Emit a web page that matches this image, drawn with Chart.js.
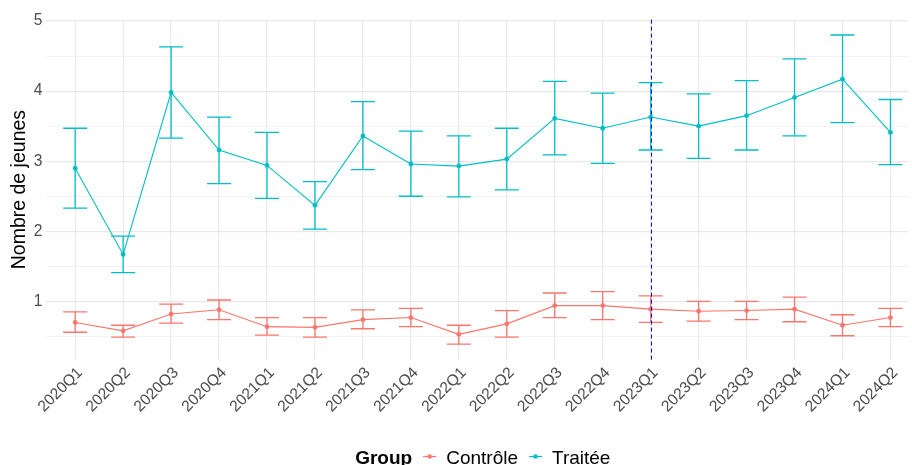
<!DOCTYPE html>
<html>
<head>
<meta charset="utf-8">
<script src="https://cdn.jsdelivr.net/npm/chart.js@4.4.1/dist/chart.umd.min.js"></script>
<style>
  html, body { margin: 0; padding: 0; background: #ffffff; overflow: hidden; }
  #wrap { position: relative; width: 912px; height: 465px; }
</style>
</head>
<body>
<div id="wrap"><canvas id="c"></canvas></div>
<script>
// ---- Data ----
const categories = ['2020Q1','2020Q2','2020Q3','2020Q4','2021Q1','2021Q2','2021Q3','2021Q4',
  '2022Q1','2022Q2','2022Q3','2022Q4','2023Q1','2023Q2','2023Q3','2023Q4','2024Q1','2024Q2'];

const controlMean = [0.70,0.58,0.82,0.88,0.64,0.63,0.74,0.77,0.53,0.68,0.94,0.94,0.89,0.86,0.87,0.89,0.66,0.77];
const controlLow  = [0.56,0.49,0.69,0.74,0.52,0.49,0.61,0.64,0.39,0.49,0.77,0.74,0.70,0.72,0.74,0.71,0.51,0.64];
const controlHigh = [0.85,0.66,0.96,1.02,0.77,0.77,0.88,0.90,0.66,0.87,1.12,1.14,1.08,1.00,1.00,1.06,0.81,0.90];

const treatedMean = [2.90,1.67,3.98,3.16,2.94,2.37,3.36,2.96,2.93,3.03,3.61,3.47,3.63,3.50,3.65,3.91,4.17,3.41];
const treatedLow  = [2.33,1.41,3.33,2.68,2.47,2.03,2.88,2.50,2.49,2.59,3.09,2.97,3.16,3.04,3.16,3.36,3.55,2.95];
const treatedHigh = [3.47,1.93,4.63,3.63,3.41,2.71,3.85,3.43,3.36,3.47,4.14,3.97,4.12,3.96,4.15,4.46,4.80,3.88];

const seriesNames = ['Contrôle', 'Traitée'];
const legendTitle = 'Group';
const yTitle = 'Nombre de jeunes';
const yMajorTicks = [1, 2, 3, 4, 5];
const yMinorTicks = [0.5, 1.5, 2.5, 3.5, 4.5];
const treatmentStart = '2023Q1';

// ---- Styling ----
const COL_CTRL = '#F8766D';
const COL_TRT = '#00BFC4';
const FONT = '"Liberation Sans", Arial, Helvetica, sans-serif';

function toPoints(arr) { return arr.map((v, i) => ({ x: i, y: v })); }

const errorBarPlugin = {
  id: 'errorBars',
  afterDatasetsDraw(chart) {
    const { ctx, scales: { x, y } } = chart;
    const sets = [
      { low: controlLow, high: controlHigh, color: COL_CTRL },
      { low: treatedLow, high: treatedHigh, color: COL_TRT }
    ];
    ctx.save();
    ctx.lineWidth = 1.3;
    sets.forEach(s => {
      ctx.strokeStyle = s.color;
      categories.forEach((c, i) => {
        const px = x.getPixelForValue(i);
        const x0 = x.getPixelForValue(i - 0.25);
        const x1 = x.getPixelForValue(i + 0.25);
        const yl = y.getPixelForValue(s.low[i]);
        const yh = y.getPixelForValue(s.high[i]);
        ctx.beginPath();
        ctx.moveTo(px, yl); ctx.lineTo(px, yh);
        ctx.moveTo(x0, yl); ctx.lineTo(x1, yl);
        ctx.moveTo(x0, yh); ctx.lineTo(x1, yh);
        ctx.stroke();
      });
    });
    // vertical dashed line at treatment start
    const vx = Math.round(x.getPixelForValue(categories.indexOf(treatmentStart))) + 0.5;
    ctx.strokeStyle = '#0000EE';
    ctx.lineWidth = 1;
    ctx.setLineDash([4, 3]);
    ctx.beginPath();
    ctx.moveTo(vx, chart.chartArea.top);
    ctx.lineTo(vx, chart.chartArea.bottom);
    ctx.stroke();
    ctx.restore();
  }
};

const legendPlugin = {
  id: 'ggLegend',
  afterDraw(chart) {
    const { ctx, scales: { x } } = chart;
    ctx.save();
    const baseY = 463.5;
    const titleFont = 'bold 19px ' + FONT;
    const labelFont = '19px ' + FONT;
    ctx.font = titleFont;
    const wTitle = ctx.measureText(legendTitle).width;
    ctx.font = labelFont;
    const wLabels = seriesNames.map(n => ctx.measureText(n).width);
    const keyW = 17, gapA = 9, gapB = 8;
    const total = wTitle + (gapA + keyW + gapB) * 2 + wLabels[0] + wLabels[1];
    const center = (x.getPixelForValue(-0.6) + x.getPixelForValue(categories.length - 0.4)) / 2;
    let cx = center - total / 2;
    ctx.fillStyle = '#000000';
    ctx.textBaseline = 'alphabetic';
    ctx.textAlign = 'left';
    ctx.font = titleFont;
    ctx.fillText(legendTitle, cx, baseY);
    cx += wTitle;
    const colors = [COL_CTRL, COL_TRT];
    seriesNames.forEach((n, i) => {
      cx += gapA;
      const ky = baseY - 7;
      ctx.strokeStyle = colors[i];
      ctx.lineWidth = 1.2;
      ctx.beginPath();
      ctx.moveTo(cx + 2, ky); ctx.lineTo(cx + keyW - 2, ky);
      ctx.stroke();
      ctx.fillStyle = colors[i];
      ctx.beginPath();
      ctx.arc(cx + keyW / 2, ky, 2.3, 0, Math.PI * 2);
      ctx.fill();
      cx += keyW + gapB;
      ctx.fillStyle = '#000000';
      ctx.font = labelFont;
      ctx.fillText(n, cx, baseY);
      cx += wLabels[i];
    });
    ctx.restore();
  }
};

const yMin = 0.17, yMax = 5.02;
const xMin = -0.6, xMax = 17.366;

new Chart(document.getElementById('c'), {
  type: 'line',
  data: {
    datasets: [
      { label: seriesNames[0], data: toPoints(controlMean), borderColor: COL_CTRL, backgroundColor: COL_CTRL,
        borderWidth: 1.1, pointRadius: 2.4, pointBorderWidth: 0, tension: 0 },
      { label: seriesNames[1], data: toPoints(treatedMean), borderColor: COL_TRT, backgroundColor: COL_TRT,
        borderWidth: 1.1, pointRadius: 2.4, pointBorderWidth: 0, tension: 0 }
    ]
  },
  options: {
    responsive: true,
    maintainAspectRatio: false,
    devicePixelRatio: 1,
    animation: false,
    layout: { padding: { top: 19.6, right: 0, bottom: 0, left: 0 } },
    plugins: { legend: { display: false }, tooltip: { enabled: false } },
    scales: {
      x: {
        type: 'linear',
        min: xMin, max: xMax,
        afterBuildTicks: (scale) => { scale.ticks = categories.map((c, i) => ({ value: i })); },
        afterFit: (scale) => { scale.height = 465 - 359.6; },
        border: { display: false },
        grid: { color: '#EBEBEB', lineWidth: 1.2, drawTicks: false },
        ticks: {
          autoSkip: false, minRotation: 45, maxRotation: 45, padding: 4, labelOffset: 5,
          color: '#4D4D4D', font: { family: FONT, size: 15.6 },
          callback: (v) => categories[v] ?? ''
        }
      },
      y: {
        type: 'linear',
        min: yMin, max: yMax,
        afterBuildTicks: (scale) => {
          scale.ticks = yMinorTicks.concat(yMajorTicks).sort((a, b) => a - b).map(v => ({ value: v }));
        },
        afterFit: (scale) => { scale.width = 46.4; },
        border: { display: false },
        grid: {
          drawTicks: false,
          color: (ctx) => (ctx.tick && yMajorTicks.includes(ctx.tick.value)) ? '#E8E8E8' : '#F0F0F0',
          lineWidth: (ctx) => (ctx.tick && yMajorTicks.includes(ctx.tick.value)) ? 1.2 : 0.8
        },
        ticks: {
          padding: 4, color: '#4D4D4D', font: { family: FONT, size: 15.6 },
          callback: (v) => yMajorTicks.includes(v) ? String(v) : ''
        },
        title: {
          display: true, text: yTitle, color: '#000000',
          font: { family: FONT, size: 19.5 }, padding: { top: 8.3, bottom: 0 }
        }
      }
    }
  },
  plugins: [errorBarPlugin, legendPlugin]
});
</script>
</body>
</html>
